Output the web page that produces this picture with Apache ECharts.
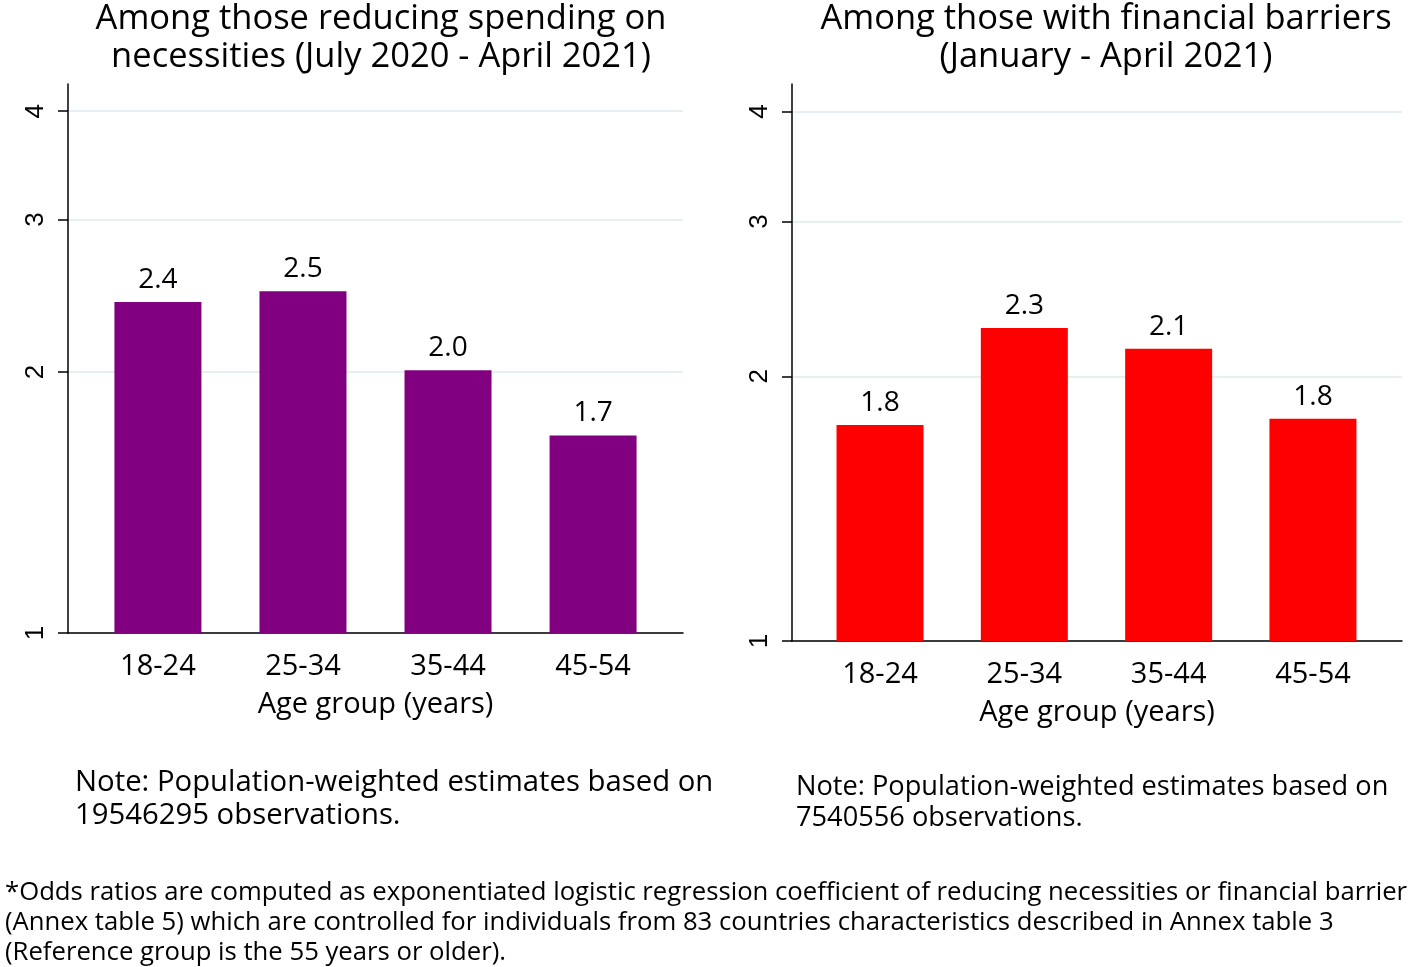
<!DOCTYPE html>
<html>
<head>
<meta charset="utf-8">
<script src="https://cdn.jsdelivr.net/npm/echarts@6/dist/echarts.min.js"></script>
<style>
html,body{margin:0;padding:0;background:#fff;}
#chart{width:1416px;height:967px;}
</style>
</head>
<body>
<div id="chart"></div>
<script>
// ---- data ----
const categories = ['18-24', '25-34', '35-44', '45-54'];
const necessitiesOdds = [2.41, 2.48, 2.01, 1.69];
const barrierOdds = [1.76, 2.27, 2.15, 1.79];
const yTicks = [1, 2, 3, 4];
const leftTitle = 'Among those reducing spending on\nnecessities (July 2020 - April 2021)';
const rightTitle = 'Among those with financial barriers\n(January - April 2021)';
const leftNote = 'Note: Population-weighted estimates based on\n19546295 observations.';
const rightNote = 'Note: Population-weighted estimates based on\n7540556 observations.';
const footnote = '*Odds ratios are computed as exponentiated logistic regression coefficient of reducing necessities or financial barrier\n(Annex table 5) which are controlled for individuals from 83 countries characteristics described in Annex table 3\n(Reference group is the 55 years or older).';

const FONT = '"Open Sans", Lato, sans-serif';
const TICKFONT = '"Liberation Sans", Arial, sans-serif';

function toPoints(vals) { return vals.map((v, i) => [i + 1, v]); }

function yAxisCfg(gridIndex) {
  return {
    type: 'log', logBase: 10, gridIndex, min: 1, max: 4.3,
    axisLine: { show: true, lineStyle: { color: '#000', width: 1.5 } },
    axisTick: { show: true, customValues: yTicks, length: 10, lineStyle: { color: '#000', width: 1.5 } },
    axisLabel: { customValues: yTicks, rotate: 90, fontSize: 26, color: '#000', fontFamily: TICKFONT, margin: 19,
                 formatter: v => String(Math.round(v)) },
    splitLine: { show: true, lineStyle: { color: '#e6eff2', width: 2 } },
    minorTick: { show: false }, minorSplitLine: { show: false }
  };
}
function xAxisCfg(gridIndex, min, max) {
  return {
    type: 'value', gridIndex, min, max,
    axisLine: { show: true, onZero: false, lineStyle: { color: '#000', width: 1.5 } },
    axisTick: { show: false },
    splitLine: { show: false },
    axisLabel: { customValues: [1, 2, 3, 4], fontSize: 29, color: '#000', fontFamily: FONT, margin: 19,
                 formatter: v => categories[Math.round(v) - 1] },
    name: 'Age group (years)', nameLocation: 'middle', nameGap: 57,
    nameTextStyle: { fontSize: 29, color: '#000', fontFamily: FONT }
  };
}
function barSeries(idx, vals, color) {
  return {
    type: 'bar', xAxisIndex: idx, yAxisIndex: idx, data: toPoints(vals), barWidth: 87,
    itemStyle: { color }, z: 3,
    label: { show: true, position: 'top', distance: 8, fontSize: 28, color: '#000', fontFamily: FONT,
             formatter: p => p.value[1].toFixed(1) }
  };
}

const chart = echarts.init(document.getElementById('chart'), null, { renderer: 'canvas' });
chart.setOption({
  backgroundColor: '#fff',
  animation: false,
  title: [
    { text: leftTitle, left: 376, top: -5, textAlign: 'center',
      textStyle: { fontSize: 34.5, fontWeight: 'normal', color: '#000', fontFamily: FONT, lineHeight: 38 } },
    { text: rightTitle, left: 1101, top: -5, textAlign: 'center',
      textStyle: { fontSize: 34.5, fontWeight: 'normal', color: '#000', fontFamily: FONT, lineHeight: 38 } },
    { text: leftNote, left: 70, top: 761,
      textStyle: { fontSize: 29.3, fontWeight: 'normal', color: '#000', fontFamily: FONT, lineHeight: 33 } },
    { text: rightNote, left: 791, top: 767,
      textStyle: { fontSize: 27.2, fontWeight: 'normal', color: '#000', fontFamily: FONT, lineHeight: 31 } },
    { text: footnote, left: 0, top: 873,
      textStyle: { fontSize: 25.7, fontWeight: 'normal', color: '#000', fontFamily: FONT, lineHeight: 30 } }
  ],
  grid: [
    { left: 68, top: 84, width: 615, height: 549 },
    { left: 792, top: 84, width: 610, height: 557 }
  ],
  xAxis: [xAxisCfg(0, 0.38, 4.62), xAxisCfg(1, 0.39, 4.617)],
  yAxis: [yAxisCfg(0), yAxisCfg(1)],
  series: [
    barSeries(0, necessitiesOdds, '#800080'),
    barSeries(1, barrierOdds, '#ff0000')
  ]
});
</script>
</body>
</html>
